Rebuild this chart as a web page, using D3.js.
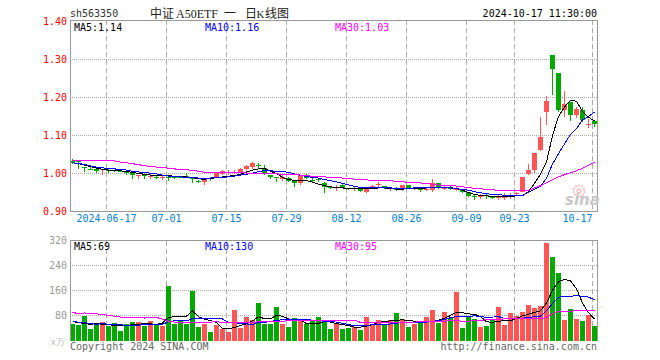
<!DOCTYPE html>
<html>
<head>
<meta charset="utf-8">
<script src="https://cdn.jsdelivr.net/npm/d3@7"></script>
<style>
  html, body { margin: 0; padding: 0; background: #fff; }
  svg { display: block; }
  text { font-family: "DejaVu Sans Mono", monospace; font-size: 10px; }
</style>
</head>
<body>
<div id="chart"></div>
<script>
// daily candles
const opens = [
  1.032,1.032,1.017,1.013,1.011,1.010,1.009,1.008,1.007,1.003,
  1.001,.995,.996,.993,.992,.989,.990,.992,.992,.993,
  .989,.981,.978,.987,.990,.999,1.004,1.004,1.004,1.011,
  1.018,1.022,1.015,.996,.9895,.985,.989,.980,.976,.9955,
  .982,.985,.9755,.965,.963,.969,.962,.961,.960,.951,
  .963,.971,.968,.960,.960,.958,.969,.961,.961,.959,
  .956,.974,.962,.963,.959,.960,.951,.941,.940,.943,
  .939,.938,.938,.939,.946,.952,.998,1.009,1.061,1.161,
  1.313,1.265,1.166,1.187,1.155,1.168,1.128,1.137
];
const highs = [
  1.037,1.034,1.018,1.016,1.012,1.013,1.012,1.010,1.009,1.006,
  1.001,.997,.997,.998,.996,.993,.993,.993,.993,1.002,
  .990,.983,.986,.990,1.001,1.010,1.008,1.009,1.015,1.022,
  1.031,1.027,1.022,.997,.990,.999,.990,.980,.997,.9975,
  .987,.987,.977,.967,.969,.972,.962,.964,.960,.962,
  .969,.978,.968,.964,.964,.970,.969,.964,.962,.964,
  .986,.975,.967,.966,.965,.960,.951,.944,.946,.948,
  .942,.944,.948,.949,.952,.991,1.024,1.053,1.150,1.203,
  1.313,1.265,1.216,1.187,1.176,1.175,1.143,1.141
];
const lows = [
  1.025,1.013,1.004,1.008,1.001,.996,1.002,1.003,1.003,.997,
  .985,.985,.985,.986,.986,.984,.981,.986,.987,.988,
  .974,.976,.969,.981,.990,.9965,.997,.9985,1.001,1.008,
  1.011,1.013,.997,.985,.978,.980,.9785,.964,.969,.985,
  .974,.977,.948,.959,.955,.962,.956,.955,.951,.9476,
  .961,.964,.960,.955,.955,.954,.960,.957,.952,.954,
  .951,.958,.956,.956,.954,.950,.937,.930,.934,.934,
  .934,.930,.929,.934,.942,.952,.995,1.002,1.059,1.128,
  1.206,1.161,1.150,1.138,1.145,1.135,1.120,1.122
];
const closes = [
  1.027,1.030,1.016,1.012,1.006,1.011,1.008,1.007,1.006,1.002,
  .996,.996,.995,.994,.991,.990,.989,.991,.991,.992,
  .987,.980,.985,.986,1.001,1.007,1.005,1.005,1.011,1.020,
  1.027,1.021,1.001,.992,.987,.990,.980,.976,.9955,.987,
  .979,.984,.965,.964,.964,.963,.958,.962,.955,.960,
  .967,.972,.963,.961,.959,.969,.963,.962,.956,.960,
  .974,.963,.963,.962,.960,.951,.941,.940,.941,.942,
  .938,.939,.939,.944,.948,.991,1.009,1.053,1.095,1.192,
  1.276,1.166,1.184,1.155,1.171,1.142,1.129,1.129
];

const ma5 = [
  1.028,1.026,1.022,1.018,1.014,1.011,1.009,1.008,1.007,1.005,
  1.003,1.000,.998,.996,.994,.994,.994,.993,.992,.991,
  .989,.986,.985,.987,.989,.991,.993,.995,.998,1.004,
  1.009,1.012,1.013,1.006,1.000,.990,.984,.982,.981,.981,
  .977,.972,.968,.965,.963,.962,.961,.960,.960,.960,
  .960,.962,.962,.961,.959,.959,.960,.961,.961,.962,
  .963,.963,.963,.963,.960,.956,.950,.945,.942,.941,
  .940,.939,.939,.940,.941,.942,.952,.974,.998,1.030,
  1.100,1.150,1.175,1.193,1.190,1.163,1.148,1.138
];
const ma10 = [
  1.028,1.026,1.024,1.020,1.017,1.015,1.013,1.012,1.011,1.009,
  1.006,1.004,1.002,1.001,.999,.996,.993,.992,.991,.990,
  .989,.988,.987,.988,.990,.990,.991,.993,.996,.998,
  1.001,1.005,1.008,1.007,1.006,1.005,1.003,.999,.995,.992,
  .990,.988,.984,.981,.978,.974,.970,.966,.963,.963,
  .963,.963,.962,.962,.961,.961,.961,.962,.963,.963,
  .963,.963,.963,.962,.960,.958,.956,.952,.949,.947,
  .945,.944,.943,.942,.942,.942,.951,.958,.967,.987,
  1.025,1.052,1.078,1.103,1.118,1.141,1.150,1.162
];
const ma30 = [
  1.034,1.034,1.034,1.034,1.034,1.034,1.034,1.033,1.030,1.028,
  1.026,1.023,1.021,1.018,1.017,1.016,1.014,1.012,1.011,1.010,
  1.008,1.006,1.003,1.003,1.003,1.003,1.003,1.003,1.003,1.001,
  1.001,1.000,1.000,.999,.999,.998,.998,.997,.996,.994,
  .993,.992,.991,.990,.9895,.988,.987,.985,.984,.983,
  .9825,.982,.981,.981,.979,.978,.977,.976,.975,.974,
  .972,.970,.968,.968,.967,.965,.963,.961,.960,.958,
  .957,.956,.9555,.955,.955,.955,.956,.962,.968,.976,
  .983,.991,.997,1.002,1.007,1.014,1.022,1.029
];

// volume in units of 万
const volumes = [
  52,49,78,36,52,59,46,55,30,52,
  59,59,46,62,52,46,174,52,62,52,
  158,43,52,27,49,36,27,97,39,75,
  65,119,52,52,107,52,43,71,68,52,
  62,75,59,36,55,36,39,43,33,75,
  52,65,52,65,87,68,43,52,59,75,
  97,55,91,71,155,39,75,68,43,46,
  65,107,49,87,78,91,113,103,110,311,
  267,215,65,100,68,62,81,46
];
const volMa5 = [
  60,58,54,52,54,52,50,49,49,49,
  50,52,54,53,52,56,74,76,78,78,
  95,76,68,64,58,39,37,42,48,53,
  63,76,70,70,80,78,69,66,65,54,
  53,55,61,59,54,51,48,43,43,46,
  51,58,61,63,65,66,64,62,61,60,
  60,65,71,80,91,89,85,84,77,60,
  58,62,63,63,71,79,84,90,95,120,
  161,188,196,191,166,120,89,69
];
const volMa10 = [
  60,59,57,54,52,54,52,50,50,49,
  48,49,51,52,52,52,60,63,64,63,
  70,70,69,69,69,69,58,57,54,53,
  51,58,58,61,65,66,68,68,68,67,
  65,63,62,60,59,55,51,48,47,49,
  50,50,51,53,55,58,58,59,59,59,
  62,63,67,73,77,77,77,79,77,74,
  75,76,71,69,69,71,74,76,78,95,
  118,138,142,142,143,142,139,130
];
const volMa30 = [
  90,86,88,87,85,84,80,78,75,75,
  74,73,72,74,74,68,62,59,58,58,
  58,58,59,59,60,58,58,58,58,58,
  58,60,60,60,61,62,63,63,63,63,
  63,63,63,65,65,65,65,65,58,58,
  57,57,57,57,57,58,58,59,60,60,
  60,60,60,65,63,62,62,64,65,66,
  67,68,69,70,70,70,70,71,70,73,
  86,93,94,94,95,95,95,95
];

// axis ticks
const priceTicks = [0.9, 1.0, 1.1, 1.2, 1.3, 1.4];
const volumeTicks = [80, 160, 240, 320];
const dateTickIndex = [6, 16, 26, 36, 46, 56, 66, 74, 87];
const dateTickLabels = ['2024-06-17', '07-01', '07-15', '07-29', '08-12', '08-26', '09-09', '09-23', '10-17'];

const RED = '#ff5555';
const GREEN = '#00a800';
const GRID = '#aaaaaa';
const FRAME = '#999999';

const width = 660;
const height = 360;
const left = 70;
const right = 598;

const svg = d3.select('#chart')
  .append('svg')
  .attr('width', width)
  .attr('height', height);

const idx = d3.range(closes.length);

const x = d3.scaleBand()
  .domain(idx)
  .range([left, right]);

const y = d3.scaleLinear()
  .domain([0.9, 1.4])
  .range([211.5, 21.5]);

const yVol = d3.scaleLinear()
  .domain([0, 320])
  .range([340.5, 240.5]);

const isUp = i => closes[i] >= opens[i];

function drawGrid(top, bottom, hTicks, scale) {
  const g = svg.append('g').attr('shape-rendering', 'crispEdges');
  g.selectAll('.hgrid')
    .data(hTicks)
    .enter()
    .append('line')
    .attr('x1', left)
    .attr('x2', right)
    .attr('y1', d => Math.floor(scale(d)) + 0.5)
    .attr('y2', d => Math.floor(scale(d)) + 0.5)
    .attr('stroke', GRID)
    .attr('stroke-dasharray', '1,1');
  g.selectAll('.vgrid')
    .data(dateTickIndex)
    .enter()
    .append('line')
    .attr('x1', d => x(d) + 0.5)
    .attr('x2', d => x(d) + 0.5)
    .attr('y1', top)
    .attr('y2', bottom)
    .attr('stroke', GRID)
    .attr('stroke-dasharray', '5,3');
}

function drawLine(values, scale, color) {
  const line = d3.line()
    .x((d, i) => x(i) + 2.5)
    .y(d => scale(d));
  svg.append('path')
    .attr('d', line(values))
    .attr('fill', 'none')
    .attr('stroke', color)
    .attr('stroke-width', 1)
    .attr('shape-rendering', 'crispEdges');
}

drawGrid(20, 212, priceTicks.slice(1, 5), y);
drawGrid(241, 340, volumeTicks.slice(0, 3), yVol);

// candles
const candles = svg.append('g').attr('shape-rendering', 'crispEdges');
candles.selectAll('.wick')
  .data(idx)
  .enter()
  .append('rect')
  .attr('x', i => x(i) + 2)
  .attr('y', i => y(highs[i]))
  .attr('width', 1)
  .attr('height', i => Math.max(1, y(lows[i]) - y(highs[i])))
  .attr('fill', i => isUp(i) ? RED : GREEN);
candles.selectAll('.body')
  .data(idx)
  .enter()
  .append('rect')
  .attr('x', i => x(i))
  .attr('y', i => y(Math.max(opens[i], closes[i])))
  .attr('width', 5)
  .attr('height', i => Math.max(1, Math.abs(y(opens[i]) - y(closes[i]))))
  .attr('fill', i => isUp(i) ? RED : GREEN);

// volume bars
svg.append('g')
  .attr('shape-rendering', 'crispEdges')
  .selectAll('.bar')
  .data(idx)
  .enter()
  .append('rect')
  .attr('x', i => x(i))
  .attr('y', i => yVol(volumes[i]))
  .attr('width', 5)
  .attr('height', i => yVol(0) - yVol(volumes[i]))
  .attr('fill', i => isUp(i) ? RED : GREEN);

drawLine(ma5, y, '#000000');
drawLine(ma10, y, '#0000ff');
drawLine(ma30, y, '#ff00ff');
drawLine(volMa5, yVol, '#000000');
drawLine(volMa10, yVol, '#0000ff');
drawLine(volMa30, yVol, '#ff00ff');

// frames, the volume panel has no bottom edge
svg.append('path')
  .attr('d', `M${left + 0.5},212V20.5H${right - 0.5}V211.5H${left}`)
  .attr('fill', 'none')
  .attr('stroke', FRAME)
  .attr('shape-rendering', 'crispEdges');
svg.append('path')
  .attr('d', `M${left + 0.5},341V240.5H${right - 0.5}V341`)
  .attr('fill', 'none')
  .attr('stroke', FRAME)
  .attr('shape-rendering', 'crispEdges');

// axes
const yAxis = svg.append('g')
  .attr('transform', 'translate(67,0)')
  .call(d3.axisLeft(y).tickValues(priceTicks).tickSize(0).tickPadding(0).tickFormat(d3.format('.2f')));
yAxis.select('.domain').remove();
yAxis.selectAll('text').attr('fill', '#ff0000').style('font-size', '10px').style('font-family', '"DejaVu Sans Mono", monospace');

const volAxis = svg.append('g')
  .attr('transform', 'translate(67,0)')
  .call(d3.axisLeft(yVol).tickValues(volumeTicks).tickSize(0).tickPadding(0));
volAxis.select('.domain').remove();
volAxis.selectAll('text').attr('fill', '#999999').style('font-size', '10px').style('font-family', '"DejaVu Sans Mono", monospace');

const dateAxis = svg.append('g')
  .attr('transform', 'translate(0,215)')
  .call(d3.axisBottom(x).tickValues(dateTickIndex).tickSize(0).tickPadding(0)
    .tickFormat(d => dateTickLabels[dateTickIndex.indexOf(d)]));
dateAxis.select('.domain').remove();
dateAxis.selectAll('.tick')
  .attr('transform', d => `translate(${x(d) + 0.5},0)`);
dateAxis.selectAll('text')
  .attr('fill', '#0080d0')
  .attr('text-anchor', d => d === 87 ? 'end' : 'middle')
  .style('font-size', '10px')
  .style('font-family', '"DejaVu Sans Mono", monospace');

// header and legends
function label(tx, ty, str, color, anchor) {
  return svg.append('text')
    .attr('x', tx)
    .attr('y', ty)
    .attr('fill', color)
    .attr('text-anchor', anchor || 'start')
    .text(str);
}

label(70, 17, 'sh563350', '#333333');
label(597, 17, '2024-10-17 11:30:00', '#000000', 'end');

[[150, '中证'], [176, 'A50ETF'], [224, '一'], [245, '日'], [256.5, 'K'], [265, '线图']].forEach(d => {
  const latin = /[A-Z]/.test(d[1]);
  label(d[0], 18, d[1], '#222222')
    .style('font-family', latin ? '"Liberation Serif", serif' : '"Noto Sans CJK SC", sans-serif')
    .style('font-size', d[1] === 'K' ? '11px' : '12px');
});

label(74, 31, 'MA5:1.14', '#000000');
label(205, 31, 'MA10:1.16', '#0000ff');
label(335, 31, 'MA30:1.03', '#ff00ff');
label(74, 250, 'MA5:69', '#000000');
label(205, 250, 'MA10:130', '#0000ff');
label(335, 250, 'MA30:95', '#ff00ff');

label(65, 345, 'x万', '#bbbbbb', 'end').style('font-size', '9px');
label(70, 350, 'Copyright 2024 SINA.COM', '#666666');
label(597, 350, 'http://finance.sina.com.cn', '#666666', 'end');

// sina watermark
const mark = svg.append('g').attr('fill', 'none').attr('stroke', '#f0c4c4');
mark.append('circle').attr('cx', 579).attr('cy', 191).attr('r', 5.5).attr('stroke-width', 2).attr('stroke-dasharray', '2,1');
mark.append('circle').attr('cx', 579).attr('cy', 191).attr('r', 2).attr('stroke-width', 1.5);
label(565, 205, 'sina', '#c8c8c8')
  .style('font-family', '"DejaVu Sans", sans-serif')
  .style('font-size', '15px')
  .style('font-weight', 'bold')
  .style('font-style', 'italic');
</script>
</body>
</html>
